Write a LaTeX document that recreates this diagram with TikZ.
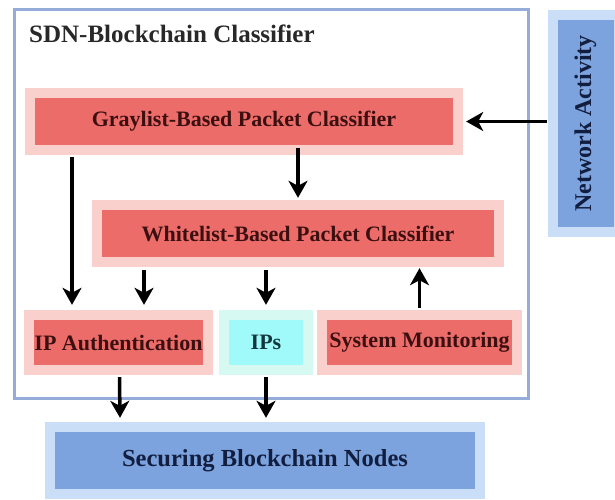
\documentclass[tikz,border=0pt]{standalone}
\usepackage{fontspec}
\setmainfont{Liberation Serif}
\usetikzlibrary{arrows.meta}

\definecolor{redbox}{RGB}{236,108,106}
\definecolor{redhalo}{RGB}{250,208,204}
\definecolor{bluebox}{RGB}{124,163,221}
\definecolor{bluehalo}{RGB}{202,222,248}
\definecolor{cyanbox}{RGB}{160,250,250}
\definecolor{cyanhalo}{RGB}{214,250,242}
\definecolor{framecol}{RGB}{150,172,216}
\definecolor{redtext}{RGB}{60,16,16}
\definecolor{bluetext}{RGB}{18,30,64}
\definecolor{cyantext}{RGB}{18,54,64}
\definecolor{titletext}{RGB}{40,40,40}

\tikzset{
  block/.style={inner sep=0pt, fill=#1box, preaction={draw=#1halo, line width=20pt},
    font=\bfseries\fontsize{22}{26}\selectfont},
  redblock/.style={block=red, text=redtext},
  flow/.style={-{Stealth[length=17pt,width=19pt,inset=5pt]}, line width=3.5pt, black},
}

\begin{document}
\begin{tikzpicture}[x=1pt,y=-1pt]
\useasboundingbox (0,0) rectangle (615,499);

% outer classifier frame
\node[draw=framecol, line width=3pt, fill=white, inner sep=0pt,
      minimum width=514pt, minimum height=389pt] (sdn) at (271,203.5) {};
\node[anchor=base west, inner sep=0pt, text=titletext,
      font=\bfseries\fontsize{25}{30}\selectfont] (title) at (29,42) {SDN-Blockchain Classifier};

% classifier stages
\node[redblock, minimum width=418pt, minimum height=47pt] (gray) at (244,121.5)
  {Graylist-Based Packet Classifier};
\node[redblock, minimum width=392pt, minimum height=47pt] (white) at (298,233.5)
  {Whitelist-Based Packet Classifier};
\node[redblock, minimum width=169pt, minimum height=45pt] (ipauth) at (118.5,342.5)
  {IP Authentication};
\node[block=cyan, text=cyantext, minimum width=74pt, minimum height=45pt] (ips) at (266,342.5)
  {IPs};
\node[redblock, minimum width=185pt, minimum height=45pt] (sysmon) at (419.5,342.5)
  {System Monitoring};

% external blocks
\node[block=blue, text=bluetext, minimum width=420pt, minimum height=57pt,
      font=\bfseries\fontsize{24.5}{29}\selectfont] (secure) at (265,460.5)
  {Securing Blockchain Nodes};
\node[block=blue, text=bluetext, minimum width=56pt, minimum height=207pt] (netact) at (585.5,123.5) {};
\node[rotate=90, text=bluetext, inner sep=0pt,
      font=\bfseries\fontsize{24}{29}\selectfont] (netlabel) at (netact.center) {Network Activity};

% connectors (shifts are in page points: negative yshift goes down)
\draw[flow] ([xshift=-10pt]netact.west |- gray.east) -- ([xshift=13pt]gray.east);
\draw[flow] ([yshift=-3pt]gray.south -| white.north) -- ([yshift=12pt]white.north);
\draw[flow] ([xshift=-172pt,yshift=-12pt]gray.south) -- ([xshift=-46.5pt,yshift=15pt]ipauth.north);
\draw[flow] ([xshift=-154pt,yshift=-13pt]white.south) -- ([xshift=25.5pt,yshift=15pt]ipauth.north);
\draw[flow] ([yshift=-13pt]white.south -| ips.north) -- ([yshift=15pt]ips.north);
\draw[flow] ([yshift=12pt]sysmon.north) -- ([yshift=-11pt]white.south -| sysmon.north);
\draw[flow] ([xshift=1pt,yshift=-12pt]ipauth.south) -- ([xshift=-145pt,yshift=14pt]secure.north);
\draw[flow] ([yshift=-12pt]ips.south) -- ([yshift=14pt]secure.north -| ips.south);
\end{tikzpicture}
\end{document}
